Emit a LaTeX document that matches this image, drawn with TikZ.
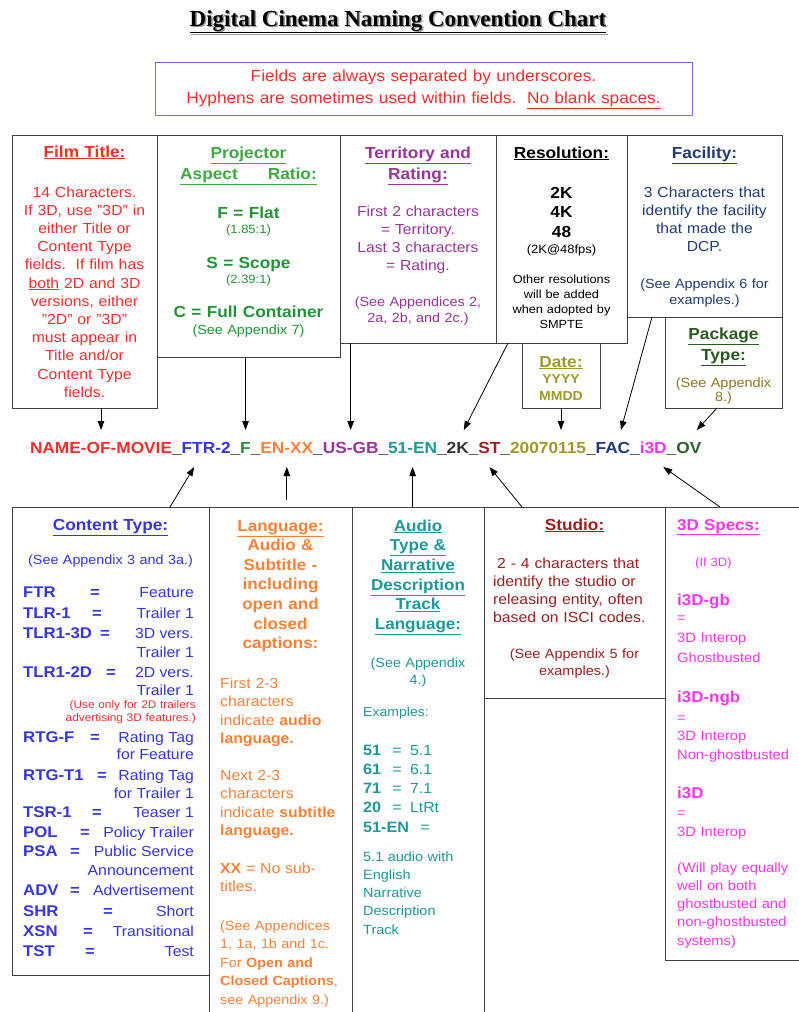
\documentclass[tikz,border=0pt]{standalone}
\usepackage{fontspec}
\setmainfont{Liberation Sans}[FakeStretch=1.08]
\newfontfamily\ttlfont{Liberation Serif}
\usetikzlibrary{arrows.meta}
\usetikzlibrary{positioning,calc}

\definecolor{filmred}{HTML}{FF2B2B}
\definecolor{projlt}{HTML}{3CAA3C}
\definecolor{projgr}{HTML}{1E9632}
\definecolor{terrpu}{HTML}{9C329C}
\definecolor{facbl}{HTML}{1F3A7A}
\definecolor{dateol}{HTML}{A09B28}
\definecolor{pkggr}{HTML}{285A1E}
\definecolor{pkgol}{HTML}{8C781E}
\definecolor{ctbl}{HTML}{3333F0}
\definecolor{langor}{HTML}{FF8033}
\definecolor{audtl}{HTML}{1A9A9A}
\definecolor{studrd}{HTML}{A01E1E}
\definecolor{specmg}{HTML}{FF33EE}
\definecolor{notebd}{HTML}{6E6EFF}
\definecolor{resgy}{HTML}{333333}
\definecolor{ovgr}{HTML}{286428}

\newcommand\fsz[2]{\fontsize{#1}{#2}\selectfont}

\tikzset{
  box/.style={draw=black!75, line width=0.9pt, anchor=north west, inner sep=0pt, outer sep=0pt},
  txt/.style={inner sep=0pt, anchor=base, align=center, text width=#1},
  ltxt/.style={inner sep=0pt, anchor=base west, align=left, text width=#1},
  seg/.style={inner sep=0pt, outer xsep=0pt, outer ysep=11pt, anchor=base west,
    text height=12pt, text depth=3pt, font=\fsz{16}{18}\bfseries},
  arr/.style={line width=0.8pt, -{Triangle[length=9pt,width=6.5pt]}},
}

\begin{document}
\begin{tikzpicture}[x=1pt,y=-1pt]
    \useasboundingbox [fill=white] (0,0) rectangle (799,1012);

    % title and note
    \node[inner sep=0pt, anchor=base, text=black!40, font=\ttlfont\fsz{23}{26}\bfseries] (ttlsh) at (399.5,27.5) {\underline{Digital Cinema Naming Convention Chart}};
    \node[inner sep=0pt, anchor=base, font=\ttlfont\fsz{23}{26}\bfseries] (ttl) at (398,26) {\underline{Digital Cinema Naming Convention Chart}};

    \node[box, draw=notebd, minimum width=537pt, minimum height=53pt] (note) at (155,62) {};
    \node[txt=530pt, text=filmred, font=\fsz{16}{22}] (notetx) at (423.5,81) {Fields are always separated by underscores.\\Hyphens are sometimes used within fields.\ \ \underline{No blank spaces.}};

    % upper boxes
    \node[box, minimum width=145pt, minimum height=273pt] (film) at (12,135) {};
    \node[box, minimum width=183pt, minimum height=222pt] (proj) at (157,135) {};
    \node[box, minimum width=156pt, minimum height=208pt] (trb) at (340,135) {};
    \node[box, minimum width=131pt, minimum height=208pt] (resb) at (496,135) {};
    \node[box, minimum width=155pt, minimum height=182pt] (facb) at (627,135) {};
    \node[box, minimum width=78pt, minimum height=65pt] (dateb) at (522,343) {};
    \node[box, minimum width=117pt, minimum height=91pt] (pkgb) at (665,317) {};

    \node[txt=140pt, text=filmred, font=\fsz{16}{20}\bfseries] (filmhd) at (84.5,157) {\underline{Film Title:}};
    \node[txt=140pt, text=filmred, font=\fsz{14.6}{18.2}] (filmtx) at (84.5,197) {14 Characters.\\If 3D, use "3D" in\\either Title or\\Content Type\\fields.\ \ If film has\\\underline{both} 2D and 3D\\versions, either\\"2D" or "3D"\\must appear in\\Title and/or\\Content Type\\fields.};

    \node[txt=178pt, text=projlt, font=\fsz{16}{21}\bfseries] (projhd) at (248.5,158) {\underline{Projector}\\\underline{Aspect\hspace{30pt}Ratio:}};
    \node[txt=178pt, text=projgr, font=\fsz{16}{20}\bfseries] (flat) at (248.5,218) {F = Flat};
    \node[txt=178pt, text=projgr, font=\fsz{12}{14}] (flatr) at (248.5,233) {(1.85:1)};
    \node[txt=178pt, text=projgr, font=\fsz{16}{20}\bfseries] (scope) at (248.5,268) {S = Scope};
    \node[txt=178pt, text=projgr, font=\fsz{12}{14}] (scoper) at (248.5,283) {(2.39:1)};
    \node[txt=178pt, text=projgr, font=\fsz{16}{20}\bfseries] (full) at (248.5,317) {C = Full Container};
    \node[txt=178pt, text=projgr, font=\fsz{13.3}{16}] (fullr) at (248.5,334) {(See Appendix 7)};

    \node[txt=150pt, text=terrpu, font=\fsz{16}{21}\bfseries] (terrhd) at (418,158) {\underline{Territory and}\\\underline{Rating:}};
    \node[txt=150pt, text=terrpu, font=\fsz{14.5}{18.3}] (terrtx) at (418,216) {First 2 characters\\= Territory.\\Last 3 characters\\= Rating.};
    \node[txt=150pt, text=terrpu, font=\fsz{13.3}{16.5}] (terrap) at (418,306) {(See Appendices 2,\\2a, 2b, and 2c.)};

    \node[txt=128pt, font=\fsz{16}{20}\bfseries] (reshd) at (561.5,158) {\underline{Resolution:}};
    \node[txt=128pt, font=\fsz{16}{19.5}\bfseries] (reslist) at (561.5,198) {2K\\4K\\48};
    \node[txt=128pt, font=\fsz{12}{14}] (resfps) at (561.5,253) {(2K@48fps)};
    \node[txt=128pt, font=\fsz{11.8}{15}] (resoth) at (561.5,283) {Other resolutions\\will be added\\when adopted by\\SMPTE};

    \node[txt=150pt, text=facbl, font=\fsz{16}{20}\bfseries] (fachd) at (704.5,158) {\underline{Facility:}};
    \node[txt=150pt, text=facbl, font=\fsz{14.5}{18.3}] (factx) at (704.5,197) {3 Characters that\\identify the facility\\that made the\\DCP.};
    \node[txt=150pt, text=facbl, font=\fsz{13.3}{16}] (facap) at (704.5,288) {(See Appendix 6 for\\examples.)};

    \node[txt=76pt, text=dateol, font=\fsz{16}{20}\bfseries] (datehd) at (561,367) {\underline{Date:}};
    \node[txt=76pt, text=dateol, font=\fsz{13}{17.5}\bfseries] (datetx) at (561,383) {YYYY\\MMDD};

    \node[txt=115pt, text=pkggr, font=\fsz{16}{21}\bfseries] (pkghd) at (723.5,339) {\underline{Package}\\\underline{Type:}};
    \node[txt=115pt, text=pkgol, font=\fsz{13.4}{14.5}] (pkgtx) at (723.5,387) {(See Appendix\\8.)};

    % the file name, one node per field
    \node[seg, text=filmred] (nmov) at (30,453) {NAME-OF-MOVIE};
    \node[seg] (u1) at (nmov.base east) {\_};
    \node[seg, text=ctbl] (ftr) at (u1.base east) {FTR-2};
    \node[seg] (u2) at (ftr.base east) {\_};
    \node[seg, text=projgr] (asp) at (u2.base east) {F};
    \node[seg] (u3) at (asp.base east) {\_};
    \node[seg, text=langor] (lang) at (u3.base east) {EN-XX};
    \node[seg] (u4) at (lang.base east) {\_};
    \node[seg, text=terrpu] (terr) at (u4.base east) {US-GB};
    \node[seg] (u5) at (terr.base east) {\_};
    \node[seg, text=audtl] (aud) at (u5.base east) {51-EN};
    \node[seg] (u6) at (aud.base east) {\_};
    \node[seg, text=resgy] (res) at (u6.base east) {2K};
    \node[seg] (u7) at (res.base east) {\_};
    \node[seg, text=studrd] (stu) at (u7.base east) {ST};
    \node[seg] (u8) at (stu.base east) {\_};
    \node[seg, text=dateol] (dat) at (u8.base east) {20070115};
    \node[seg] (u9) at (dat.base east) {\_};
    \node[seg, text=facbl] (fac) at (u9.base east) {FAC};
    \node[seg] (u10) at (fac.base east) {\_};
    \node[seg, text=specmg] (spec) at (u10.base east) {i3D};
    \node[seg] (u11) at (spec.base east) {\_};
    \node[seg, text=ovgr] (pkg) at (u11.base east) {OV};

    \draw[arr] (nmov.north |- film.south) -- (nmov.north);
    \draw[arr] (asp.north |- proj.south) -- (asp.north);
    \draw[arr] (terr.north |- trb.south) -- (terr.north);
    \draw[arr] ([xshift=12pt]resb.south west) -- ([xshift=6pt]res.north);
    \draw[arr] (dateb.south) -- (dateb.south |- dat.north);
    \draw[arr] ([xshift=25pt]facb.south west) -- ([xshift=8pt]fac.north);
    \draw[arr] ([xshift=52pt]pkgb.south west) -- ([xshift=8pt]pkg.north);

    % lower boxes
    \node[box, minimum width=197pt, minimum height=468pt] (ctb) at (12,507) {};
    \node[box, minimum width=143pt, minimum height=520pt] (lgb) at (209,507) {};
    \node[box, minimum width=132pt, minimum height=520pt] (aub) at (352,507) {};
    \node[box, minimum width=181pt, minimum height=191pt] (stb) at (484,507) {};
    \node[box, minimum width=150pt, minimum height=453pt] (spb) at (665,507) {};

    \draw[arr] ([xshift=158pt]ctb.north west) -- ([xshift=-12pt]ftr.south);
    \draw[arr] ($(lang.south |- lgb.north)+(0,-7)$) -- (lang.south);
    \draw[arr] (aud.south |- aub.north) -- (aud.south);
    \draw[arr] ([xshift=38pt]stb.north west) -- (stu.south);
    \draw[arr] ([xshift=55pt]spb.north west) -- ([xshift=10pt]spec.south);

    % content type
    \node[txt=190pt, text=ctbl, font=\fsz{16}{20}\bfseries] (cthd) at (110.5,530) {\underline{Content Type:}};
    \node[txt=190pt, text=ctbl, font=\fsz{13.3}{16}] (ctap) at (110.5,564) {(See Appendix 3 and 3a.)};
    \foreach \yy/\cd/\ex/\mn [count=\i] in {597/FTR/95/Feature, 618/TLR-1/97/Trailer 1,
        638/TLR1-3D/105/3D vers., 677/TLR1-2D/111/2D vers., 742/RTG-F/95/Rating Tag,
        780/RTG-T1/102/Rating Tag, 817/TSR-1/97/Teaser 1, 837/POL/85/Policy Trailer,
        856/PSA/75/Public Service, 895/ADV/75/Advertisement, 916/SHR/108/Short,
        936/XSN/88/Transitional, 956/TST/90/Test}
    {
        \node[inner sep=0pt, anchor=base west, text=ctbl, font=\fsz{15.5}{18}\bfseries] (ctc\i) at (23,\yy) {\cd};
        \node[inner sep=0pt, anchor=base, text=ctbl, font=\fsz{15.5}{18}\bfseries] (cte\i) at (\ex,\yy) {=};
        \node[inner sep=0pt, anchor=base east, text=ctbl, font=\fsz{14.6}{18}] (ctm\i) at (194,\yy) {\mn};
    }
    \foreach \yy/\mn [count=\i] in {657/Trailer 1, 695/Trailer 1, 759/for Feature, 798/for Trailer 1, 875/Announcement}
        \node[inner sep=0pt, anchor=base east, text=ctbl, font=\fsz{14.6}{18}] (ctn\i) at (194,\yy) {\mn};
    \node[inner sep=0pt, anchor=base east, align=right, text width=140pt, text=filmred, font=\fsz{11}{13}] (ctnote) at (196,708) {(Use only for 2D trailers\\advertising 3D features.)};

    % language
    \node[txt=140pt, text=langor, font=\fsz{15.8}{19.6}\bfseries] (langhd) at (280.5,531) {\underline{Language:}\\Audio \&\\Subtitle -\\including\\open and\\closed\\captions:};
    \node[ltxt=130pt, text=langor, font=\fsz{14.6}{18.5}] (langa) at (220,688) {First 2-3\\characters\\indicate \textbf{audio}\\\textbf{language.}};
    \node[ltxt=130pt, text=langor, font=\fsz{14.6}{18.5}] (langb) at (220,780) {Next 2-3\\characters\\indicate \textbf{subtitle}\\\textbf{language.}};
    \node[ltxt=130pt, text=langor, font=\fsz{14.6}{18.5}] (langc) at (220,873) {\textbf{XX} = No sub-\\titles.};
    \node[ltxt=135pt, text=langor, font=\fsz{13.3}{18.5}] (langd) at (220,930) {(See Appendices\\1, 1a, 1b and 1c.\\For \textbf{Open and}\\\textbf{Closed Captions},\\see Appendix 9.)};

    % audio
    \node[txt=128pt, text=audtl, font=\fsz{15.8}{19.7}\bfseries] (audhd) at (418,531) {\underline{Audio}\\\underline{Type \&}\\\underline{Narrative}\\\underline{Description}\\\underline{Track}\\\underline{Language:}};
    \node[txt=128pt, text=audtl, font=\fsz{13.3}{17}] (audap) at (418,667) {(See Appendix\\4.)};
    \node[ltxt=120pt, text=audtl, font=\fsz{13}{16}] (audex) at (363,716) {Examples:};
    \foreach \yy/\cd/\ex/\vl [count=\i] in {755/51/397/5.1, 774/61/397/6.1, 793/71/397/7.1, 812/20/397/LtRt, 832/51-EN/425/}
    {
        \node[inner sep=0pt, anchor=base west, text=audtl, font=\fsz{15}{18}\bfseries] (auc\i) at (363,\yy) {\cd};
        \node[inner sep=0pt, anchor=base, text=audtl, font=\fsz{15}{18}] (aue\i) at (\ex,\yy) {=};
        \node[inner sep=0pt, anchor=base west, text=audtl, font=\fsz{14.6}{18}] (auv\i) at (410,\yy) {\vl};
    }
    \node[ltxt=120pt, text=audtl, font=\fsz{13.4}{18.3}] (audnd) at (363,861) {5.1 audio with\\English\\Narrative\\Description\\Track};

    % studio
    \node[txt=175pt, text=studrd, font=\fsz{16}{20}\bfseries] (studhd) at (574.5,530) {\underline{Studio:}};
    \node[ltxt=170pt, text=studrd, font=\fsz{14.6}{18.3}] (studtx) at (493,568) {\hspace*{4pt}2 - 4 characters that\\identify the studio or\\releasing entity, often\\based on ISCI codes.};
    \node[txt=175pt, text=studrd, font=\fsz{13.4}{17}] (studap) at (574.5,658) {(See Appendix 5 for\\examples.)};

    % 3D specs
    \node[ltxt=130pt, text=specmg, font=\fsz{15.7}{20}\bfseries] (spechd) at (677,530) {\underline{3D Specs:}};
    \node[ltxt=100pt, text=specmg, font=\fsz{12}{14}] (specif) at (695,566) {(If 3D)};
    \node[ltxt=130pt, text=specmg, font=\fsz{15.7}{20}\bfseries] (gb) at (677,605) {i3D-gb};
    \node[ltxt=130pt, text=specmg, font=\fsz{13.6}{20}] (gbtx) at (677,622) {=\\3D Interop\\Ghostbusted};
    \node[ltxt=130pt, text=specmg, font=\fsz{15.7}{20}\bfseries] (ngb) at (677,702) {i3D-ngb};
    \node[ltxt=130pt, text=specmg, font=\fsz{13.6}{18.8}] (ngbtx) at (677,722) {=\\3D Interop\\Non-ghostbusted};
    \node[ltxt=130pt, text=specmg, font=\fsz{15.7}{20}\bfseries] (ip) at (677,798) {i3D};
    \node[ltxt=130pt, text=specmg, font=\fsz{13.6}{19}] (iptx) at (677,817) {=\\3D Interop};
    \node[ltxt=130pt, text=specmg, font=\fsz{13.6}{18.3}] (iptx2) at (677,872) {(Will play equally\\well on both\\ghostbusted and\\non-ghostbusted\\systems)};
\end{tikzpicture}
\end{document}
